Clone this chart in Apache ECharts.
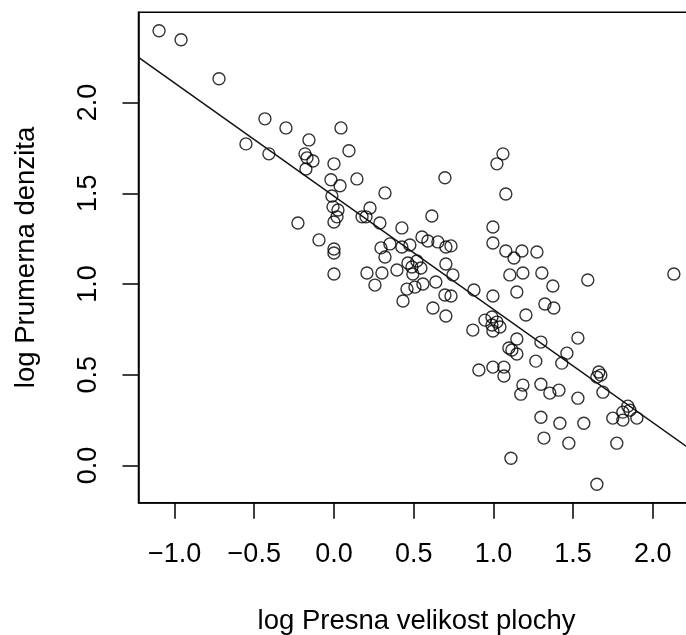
<!DOCTYPE html>
<html>
<head>
<meta charset="utf-8">
<script src="https://cdn.jsdelivr.net/npm/echarts@6/dist/echarts.min.js"></script>
<style>
html,body{margin:0;padding:0;background:#fff;}
#chart{width:686px;height:635px;}
</style>
</head>
<body>
<div id="chart"></div>
<script>
// log Presna velikost plochy (x) and log Prumerna denzita (y)
const xValues = [
 -1.097,-0.959,-0.721,-0.433,-0.301,-0.552,-0.408,0.044,-0.157,0.094,
 -0.182,-0.169,-0.132,-0.176,0.000,0.144,-0.019,0.038,0.320,-0.013,
 -0.006,0.025,0.019,0.000,0.226,0.176,0.201,0.288,-0.226,-0.094,
 0.000,0.000,0.000,0.426,0.614,0.696,0.295,0.351,0.320,0.426,
 0.476,0.552,0.589,0.652,0.702,0.734,0.997,0.997,0.464,0.489,
 0.520,0.545,0.395,0.702,0.746,0.495,0.207,0.301,0.257,0.458,
 0.508,0.558,0.639,0.433,0.696,0.734,0.878,0.997,0.621,0.702,
 0.871,0.947,0.991,1.022,0.991,1.041,0.997,1.060,1.022,1.078,
 1.078,1.179,1.273,1.129,1.103,1.185,1.304,1.373,1.592,2.132,
 1.147,1.323,1.379,1.204,1.147,1.298,1.530,1.097,1.116,1.147,
 1.461,1.429,1.266,0.909,0.997,1.066,1.066,1.661,1.649,1.674,
 1.687,1.185,1.172,1.298,1.354,1.411,1.530,1.843,1.812,1.856,
 1.749,1.812,1.900,1.298,1.417,1.567,1.317,1.473,1.774,1.110,
 1.649
];
const yValues = [
 2.395,2.346,2.131,1.910,1.860,1.772,1.717,1.860,1.794,1.734,
 1.717,1.695,1.678,1.634,1.662,1.579,1.574,1.541,1.502,1.485,
 1.425,1.408,1.370,1.342,1.419,1.370,1.370,1.336,1.336,1.243,
 1.193,1.171,1.055,1.309,1.375,1.585,1.199,1.221,1.149,1.204,
 1.215,1.259,1.237,1.232,1.204,1.210,1.314,1.226,1.116,1.094,
 1.127,1.088,1.077,1.110,1.050,1.055,1.061,1.061,0.994,0.972,
 0.983,1.000,1.011,0.906,0.939,0.934,0.967,0.934,0.868,0.824,
 0.746,0.801,0.818,0.790,0.774,0.763,0.741,1.717,1.662,1.496,
 1.182,1.182,1.176,1.143,1.050,1.061,1.061,0.989,1.022,1.055,
 0.956,0.890,0.868,0.829,0.697,0.680,0.702,0.647,0.636,0.614,
 0.619,0.564,0.575,0.526,0.542,0.542,0.493,0.515,0.487,0.498,
 0.404,0.443,0.393,0.448,0.399,0.415,0.371,0.327,0.294,0.305,
 0.261,0.250,0.261,0.266,0.233,0.233,0.151,0.123,0.123,0.040,
 -0.103
];
// fitted regression line endpoints
const fitX = [-1.226, 2.262];
const fitY = [2.249, 0.073];

const xTicks = [-1, -0.5, 0, 0.5, 1, 1.5, 2];
const xTickLabels = ['\u22121.0', '\u22120.5', '0.0', '0.5', '1.0', '1.5', '2.0'];
const yTicks = [0, 0.5, 1, 1.5, 2];
const yTickLabels = ['0.0', '0.5', '1.0', '1.5', '2.0'];

const xTitle = 'log Presna velikost plochy';
const yTitle = 'log Prumerna denzita';

const FONT = "'Liberation Sans', Arial, Helvetica, sans-serif";

const scatterData = xValues.map((x, i) => [x, yValues[i]]);
const lineData = fitX.map((x, i) => [x, fitY[i]]);

function lab(ticks, labels) {
  return function (v) {
    for (let i = 0; i < ticks.length; i++) {
      if (Math.abs(ticks[i] - v) < 1e-9) return labels[i];
    }
    return '';
  };
}

const chart = echarts.init(document.getElementById('chart'), null, {renderer: 'canvas'});
chart.setOption({
  animation: false,
  backgroundColor: '#fff',
  grid: {
    left: 138.5, top: 12.3, width: 556.1, height: 490.4,
    containLabel: false,
    outerBoundsMode: 'none',
    show: true, borderColor: '#000', borderWidth: 1.5, backgroundColor: 'transparent'
  },
  xAxis: {
    type: 'value', min: -1.226, max: 2.262,
    axisLine: {show: true, onZero: false, lineStyle: {color: '#000', width: 1.5}},
    splitLine: {show: false},
    axisTick: {show: true, inside: false, length: 16, customValues: xTicks,
      lineStyle: {color: '#000', width: 1.5}},
    axisLabel: {show: true, customValues: xTicks, formatter: lab(xTicks, xTickLabels),
      fontSize: 27, fontFamily: FONT, color: '#000', margin: 38},
    name: xTitle, nameLocation: 'middle', nameGap: 105,
    nameTextStyle: {fontSize: 27.5, fontFamily: FONT, color: '#000'}
  },
  yAxis: {
    type: 'value', min: -0.205, max: 2.497,
    axisLine: {show: true, onZero: false, lineStyle: {color: '#000', width: 1.5}},
    splitLine: {show: false},
    axisTick: {show: true, inside: false, length: 16, customValues: yTicks,
      lineStyle: {color: '#000', width: 1.5}},
    axisLabel: {show: true, customValues: yTicks, formatter: lab(yTicks, yTickLabels),
      rotate: 90, fontSize: 27, fontFamily: FONT, color: '#000', margin: 36},
    name: yTitle, nameLocation: 'middle', nameGap: 98, nameRotate: 90,
    nameTextStyle: {fontSize: 27.5, fontFamily: FONT, color: '#000'}
  },
  series: [
    {
      type: 'scatter',
      data: scatterData,
      symbol: 'circle',
      symbolSize: 12,
      silent: true,
      itemStyle: {color: 'rgba(0,0,0,0)', borderColor: '#000', borderWidth: 1.4}
    },
    {
      type: 'line',
      data: lineData,
      showSymbol: false,
      silent: true,
      clip: true,
      lineStyle: {color: '#111', width: 1.5}
    }
  ]
});
</script>
</body>
</html>
